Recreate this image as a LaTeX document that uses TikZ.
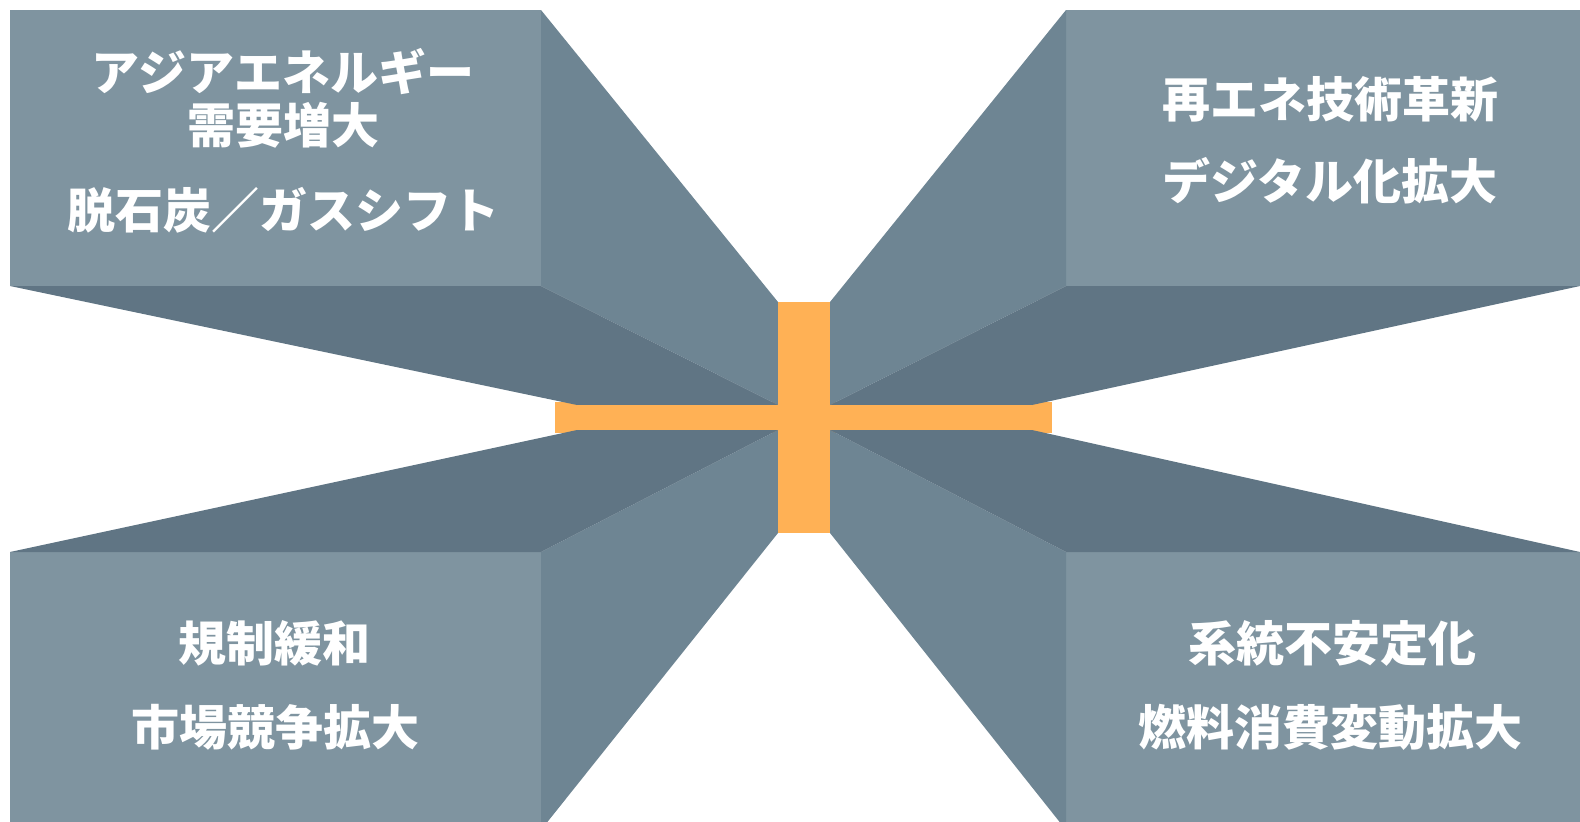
\documentclass[tikz,border=0pt]{standalone}
\usepackage{fontspec}
\newfontfamily\jpb{Noto Sans CJK JP}
\definecolor{frontc}{HTML}{7F94A0}
\definecolor{sidec}{HTML}{6E8593}
\definecolor{darkc}{HTML}{607584}
\definecolor{orangec}{HTML}{FFB155}
\tikzset{
  lab/.style={text=white, font=\jpb\bfseries\fontsize{48}{54}\selectfont, inner sep=0pt, anchor=base},
  frontface/.style={fill=frontc},
  sideface/.style={fill=sidec},
  darkface/.style={fill=darkc},
  bar/.style={fill=orangec}
}
\begin{document}
\begin{tikzpicture}[x=1pt,y=-1pt]
\useasboundingbox (0,0) rectangle (1580,822);
\clip (0,0) rectangle (1580,822);
% horizontal orange bar (behind)
\fill[bar] (555,402) rectangle (1052,433);
% ---- top-left block
\fill[frontface] (10,10) rectangle (541,286);
\fill[sideface] (541,10) -- (778,302) -- (778,405) -- (541,286) -- cycle;
\fill[darkface] (10,286) -- (541,286) -- (778,405) -- (577,405) -- cycle;
% ---- top-right block
\fill[frontface] (1066,10) rectangle (1580,286);
\fill[sideface] (1066,10) -- (830,302) -- (830,405) -- (1066,286) -- cycle;
\fill[darkface] (1580,286) -- (1066,286) -- (830,405) -- (1032,405) -- cycle;
% ---- bottom-left block
\fill[frontface] (10,552) rectangle (541,830);
\fill[sideface] (541,830) -- (778,533) -- (778,430) -- (541,552) -- cycle;
\fill[darkface] (10,552) -- (541,552) -- (778,430) -- (577,430) -- cycle;
% ---- bottom-right block
\fill[frontface] (1066,552) rectangle (1580,830);
\fill[sideface] (1066,830) -- (830,533) -- (830,430) -- (1066,552) -- cycle;
\fill[darkface] (1580,552) -- (1066,552) -- (830,430) -- (1032,430) -- cycle;
% vertical orange bar and centre of horizontal bar
\fill[bar] (778,302) rectangle (830,533);
\fill[bar] (577,405) rectangle (1032,430);
% ---- texts
\node[lab] (tl1) at (283,90) {アジアエネルギー};
\node[lab] (tl2) at (283,143) {需要増大};
\node[lab] (tl3) at (283,228) {脱石炭／ガスシフト};
\node[lab] (tr1) at (1330,117) {再エネ技術革新};
\node[lab] (tr2) at (1330,199) {デジタル化拡大};
\node[lab] (bl1) at (274,661) {規制緩和};
\node[lab] (bl2) at (275,745) {市場競争拡大};
\node[lab] (br1) at (1332,661) {系統不安定化};
\node[lab] (br2) at (1330,745) {燃料消費変動拡大};
\end{tikzpicture}
\end{document}
